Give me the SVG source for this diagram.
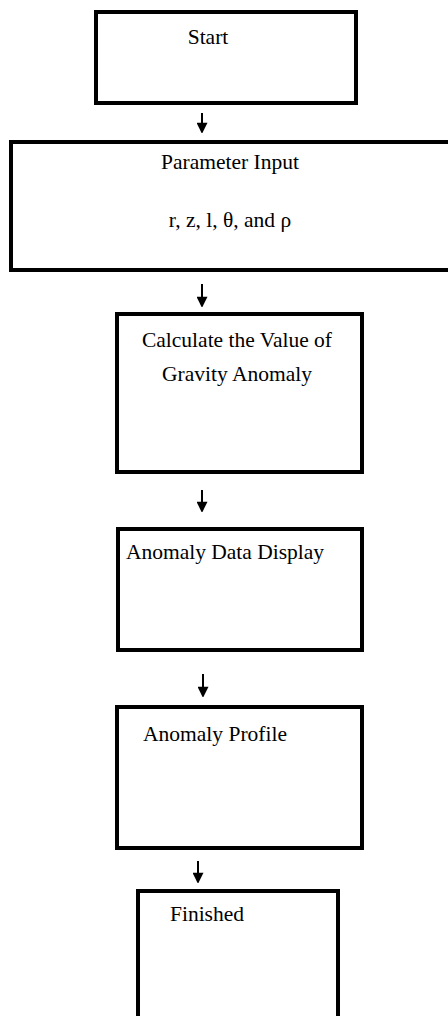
<svg xmlns="http://www.w3.org/2000/svg" width="448" height="1016" viewBox="0 0 448 1016">
  <defs>
    <marker id="arrowhead" viewBox="0 0 10 12" refX="10" refY="6" markerWidth="12" markerHeight="11" markerUnits="userSpaceOnUse" orient="auto">
      <path d="M0,0 L12,6 L0,12 z" fill="#000"/>
    </marker>
  </defs>
  <style>
    .box { fill: #fff; stroke: #000; stroke-width: 4; }
    .label { font-family: "Liberation Serif", "Times New Roman", serif; font-size: 21.5px; fill: #000; text-anchor: middle; }
    .conn { stroke: #000; stroke-width: 2; fill: none; marker-end: url(#arrowhead); }
  </style>
  <rect width="448" height="1016" fill="#fff"/>

  <g id="start">
    <rect class="box" x="96" y="12" width="260" height="91"/>
    <text class="label" x="208" y="44">Start</text>
  </g>

  <g id="parameter-input">
    <rect class="box" x="11" y="142" width="445" height="128"/>
    <text class="label" x="230" y="169">Parameter Input</text>
    <text class="label" x="230" y="227">r, z, l, θ, and ρ</text>
  </g>

  <g id="calculate">
    <rect class="box" x="117" y="314" width="245" height="158"/>
    <text class="label" x="237" y="347">Calculate the Value of</text>
    <text class="label" x="237" y="381">Gravity Anomaly</text>
  </g>

  <g id="data-display">
    <rect class="box" x="118" y="529" width="244" height="121"/>
    <text class="label" x="225" y="559">Anomaly Data Display</text>
  </g>

  <g id="profile">
    <rect class="box" x="117" y="707" width="245" height="141"/>
    <text class="label" x="215" y="741">Anomaly Profile</text>
  </g>

  <g id="finished">
    <rect class="box" x="138" y="891" width="200" height="135"/>
    <text class="label" x="207" y="921">Finished</text>
  </g>

  <g id="connectors">
    <line class="conn" x1="202" y1="113" x2="202" y2="132"/>
    <line class="conn" x1="202" y1="284" x2="202" y2="306"/>
    <line class="conn" x1="202" y1="490" x2="202" y2="511"/>
    <line class="conn" x1="203" y1="674" x2="203" y2="696"/>
    <line class="conn" x1="198" y1="861" x2="198" y2="882"/>
  </g>
</svg>
